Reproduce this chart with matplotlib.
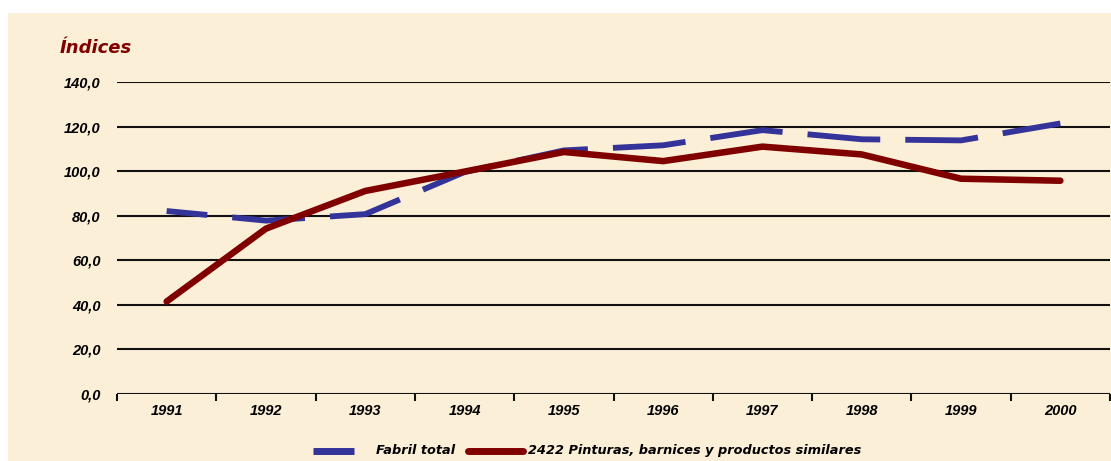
import matplotlib.pyplot as plt
from matplotlib.lines import Line2D
from matplotlib.patches import Rectangle
import numpy as np

# Data
# ---------------------------------
years = ['1991', '1992', '1993', '1994', '1995', '1996', '1997', '1998', '1999', '2000']
fabril_total = [82.1, 77.8, 80.7, 99.6, 109.3, 111.6, 118.4, 114.3, 113.8, 121.4]
pinturas = [41.5, 74.2, 91.1, 99.8, 108.6, 104.5, 111.0, 107.5, 96.6, 95.7]
yticks = [0, 20, 40, 60, 80, 100, 120, 140]
ytick_labels = ['0,0', '20,0', '40,0', '60,0', '80,0', '100,0', '120,0', '140,0']

W, H = 1111, 461
bg = '#FBEFD7'
blue = '#333399'
red = '#800000'
font = 'Liberation Sans'
lfont = 'DejaVu Sans'

fig = plt.figure(figsize=(W / 100, H / 100), dpi=100, facecolor='white')
fig.patches.append(Rectangle((8 / W, 0), 1 - 8 / W, 1 - 13 / H,
                             transform=fig.transFigure, facecolor=bg,
                             edgecolor='none', zorder=-5))

ax = fig.add_axes([117 / W, (H - 394) / H, (1110 - 117) / W, (394 - 82) / H])
ax.set_facecolor('none')

x = np.arange(len(years))
ax.set_xlim(-0.5, len(years) - 0.5)
ax.set_ylim(0, 140)

# Gridlines
# ---------
for v in yticks:
    ax.axhline(v, color='#111111', lw=1.5, zorder=1)

# Series
# ------
lw = 4.2
ax.plot(x, fabril_total, color=blue, lw=lw, zorder=3,
        linestyle=(5.5, (12.5, 4.3)), solid_capstyle='butt', dash_capstyle='butt')
ax.plot(x, pinturas, color=red, lw=lw + 0.5, zorder=4,
        solid_capstyle='round', solid_joinstyle='round')

# Axes styling
# ------------
for s in ax.spines.values():
    s.set_visible(False)
ax.set_yticks(yticks)
ax.set_yticklabels(ytick_labels, fontfamily=font, fontweight='bold',
                   fontstyle='italic', fontsize=10.5)
ax.tick_params(axis='y', length=0, pad=12)
ax.set_xticks(x)
ax.set_xticklabels(years, fontfamily=font, fontweight='bold',
                   fontstyle='italic', fontsize=10.5)
ax.tick_params(axis='x', length=0, pad=7)
ax.set_xticks(np.arange(len(years) + 1) - 0.5, minor=True)
ax.tick_params(axis='x', which='minor', length=5, width=1.5, direction='out', color='#111111')

fig.text(60 / W, (H - 48) / H, 'Índices', color=red, fontfamily=lfont,
         fontweight='bold', fontstyle='italic', fontsize=13, va='center')

# Legend
# ------
ly = (H - 450.5) / H
fig.add_artist(Line2D([313 / W, 354 / W], [ly, ly], color=blue, lw=5,
                      solid_capstyle='butt', transform=fig.transFigure))
fig.text(376 / W, ly, 'Fabril total', fontfamily=lfont, fontweight='bold',
         fontstyle='italic', fontsize=9.3, va='center')
fig.add_artist(Line2D([468 / W, 523 / W], [ly, ly], color=red, lw=5,
                      solid_capstyle='round', transform=fig.transFigure))
fig.text(528 / W, ly, '2422 Pinturas, barnices y productos similares',
         fontfamily=lfont, fontweight='bold', fontstyle='italic',
         fontsize=9.3, va='center')

fig.savefig('out.png', dpi=100, facecolor='white')
